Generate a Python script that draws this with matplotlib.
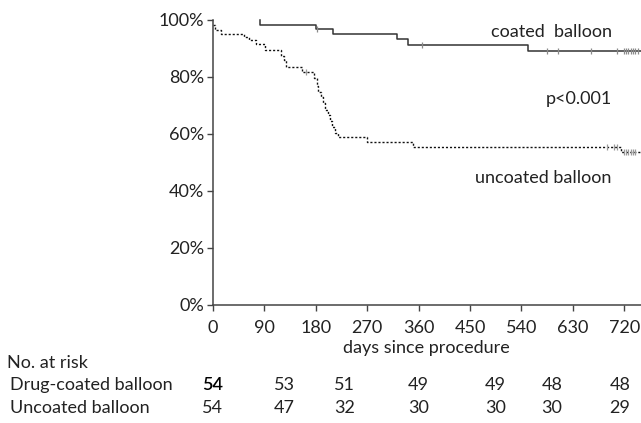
import matplotlib
matplotlib.use('Agg')
import matplotlib.pyplot as plt
import matplotlib.transforms as mtransforms
import numpy as np

# drug-coated balloon curve (day, % event-free after step)
coated_days = [83, 83, 181, 211, 322, 342, 552, 749]
coated_surv = [100, 98.4, 96.9, 95.1, 93.2, 91.3, 89.2, 89.2]
coated_cens = [182, 366, 585, 603, 661, 707, 719, 723, 727, 731, 735, 739, 743]

# uncoated balloon curve
uncoated_days = [0, 4, 14, 55, 63, 76, 92, 119, 125, 128, 157, 178, 182, 185, 189,
                 193, 197, 201, 205, 209, 214, 219, 270, 350, 714, 749]
uncoated_surv = [98.2, 96.5, 95.0, 93.9, 93.0, 91.5, 89.5, 87.5, 86.0, 83.6, 81.9, 79.5,
                 77.0, 74.8, 73.0, 71.0, 68.5, 66.5, 64.5, 62.5, 60.5, 58.8, 57.3, 55.5,
                 53.8, 53.8]
uncoated_cens = [164, 689, 702, 707, 719, 723, 727, 731, 735, 739]

xticks = [0, 90, 180, 270, 360, 450, 540, 630, 720]
yticks = [0, 20, 40, 60, 80, 100]

risk_rows = ['Drug-coated balloon', 'Uncoated balloon']
risk_coated = [54, 53, 51, 49, 49, 48, 48]
risk_uncoated = [54, 47, 32, 30, 30, 30, 29]
risk_days = [0, 126, 231, 360, 494, 593, 712]


def value_at(days, surv, t):
    i = np.searchsorted(days, t, side='right') - 1
    return surv[max(i, 0)]


def main():
    plt.rcParams['font.family'] = ['Lato', 'DejaVu Sans']
    txt = '#222222'
    fs = 13

    fig = plt.figure(figsize=(6.41, 4.23), dpi=100)
    ax = fig.add_axes([0.3318, 0.279, 0.6682, 0.6738])

    ax.step(coated_days, coated_surv, where='post', color='#333333', lw=1.1,
            clip_on=False)
    ax.step(uncoated_days, uncoated_surv, where='post', color='#111111', lw=1.0,
            linestyle=(0, (1.5, 1.4)), clip_on=False)

    cy = [value_at(coated_days, coated_surv, t) for t in coated_cens]
    uy = [value_at(uncoated_days, uncoated_surv, t) for t in uncoated_cens]
    ax.plot(coated_cens, cy, ls='none', marker='|', ms=5, mew=0.9, color='#8a8a8a',
            clip_on=False)
    ax.plot(uncoated_cens, uy, ls='none', marker='|', ms=5, mew=0.9, color='#9a9a9a',
            clip_on=False)

    ax.set_xlim(0, 749)
    ax.set_ylim(0, 100)
    ax.set_xticks(xticks)
    ax.set_yticks(yticks)
    ax.set_yticklabels([f'{v}%' for v in yticks])
    for s in ['top', 'right']:
        ax.spines[s].set_visible(False)
    for s in ['left', 'bottom']:
        ax.spines[s].set_color('#444444')
        ax.spines[s].set_linewidth(1.1)
    ax.tick_params(direction='out', length=4, width=1, color='#444444',
                   labelsize=fs, labelcolor=txt)
    ax.tick_params(axis='x', pad=7)
    ax.tick_params(axis='y', pad=2)
    ax.set_xlabel('days since procedure', fontsize=fs, color=txt, labelpad=3)

    ax.text(698, 95.7, 'coated  balloon', ha='right', va='center', fontsize=fs, color=txt)
    ax.text(698, 72.3, 'p<0.001', ha='right', va='center', fontsize=fs, color=txt)
    ax.text(698, 44.5, 'uncoated balloon', ha='right', va='center', fontsize=fs, color=txt)

    # number at risk table
    tr = mtransforms.blended_transform_factory(ax.transData, fig.transFigure)
    fig.text(7 / 641, 1 - 362.7 / 423, 'No. at risk', ha='left', va='center',
             fontsize=fs, color=txt)
    rows_y = [1 - 385 / 423, 1 - 408.3 / 423]
    for name, ry, vals in zip(risk_rows, rows_y, [risk_coated, risk_uncoated]):
        fig.text(10 / 641, ry, name, ha='left', va='center', fontsize=fs, color=txt)
        for j, (d, v) in enumerate(zip(risk_days, vals)):
            bold = (j == 0 and name == risk_rows[0])
            ax.text(d, ry, str(v), transform=tr, ha='center', va='center',
                    fontsize=fs, color='#000000' if bold else txt,
                    fontweight='semibold' if bold else 'normal', clip_on=False)

    fig.savefig('out.png', dpi=100)


if __name__ == '__main__':
    main()
